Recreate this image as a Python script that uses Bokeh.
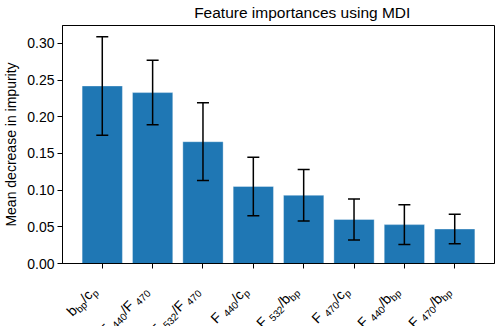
import math

from bokeh.plotting import figure
from bokeh.layouts import column
from bokeh.models import (ColumnDataSource, Range1d, FixedTicker, Whisker,
                          TeeHead, NumeralTickFormatter, Div)
from bokeh.core.properties import value
from bokeh.embed import file_html
from bokeh.resources import INLINE

# Mean decrease in impurity per feature and its spread across trees
importances = [0.242, 0.233, 0.166, 0.105, 0.093, 0.060, 0.053, 0.047]
std = [0.067, 0.044, 0.053, 0.040, 0.035, 0.028, 0.027, 0.020]

# Tick labels as (text, is_subscript) pieces
tick_labels = [
    [("b", False), ("bp", True), ("/c", False), ("p", True)],
    [("F ", False), ("440", True), ("/F ", False), ("470", True)],
    [("F ", False), ("532", True), ("/F ", False), ("470", True)],
    [("F ", False), ("440", True), ("/c", False), ("p", True)],
    [("F ", False), ("532", True), ("/b", False), ("bp", True)],
    [("F ", False), ("470", True), ("/c", False), ("p", True)],
    [("F ", False), ("440", True), ("/b", False), ("bp", True)],
    [("F ", False), ("470", True), ("/b", False), ("bp", True)],
]
y_ticks = [0.0, 0.05, 0.10, 0.15, 0.20, 0.25, 0.30]

title = "Feature importances using MDI"
y_label = "Mean decrease in impurity"

FONT = "Liberation Sans"
BLUE = "#1f77b4"
FS = 14.0      # normal label size, px
SFS = 10.0     # subscript size, px
SUB_DROP = 3.0

W = 500
TITLE_H = 24
MAIN_H = 246
LAB_H = 326 - TITLE_H - MAIN_H
BORDER_L, BORDER_R, BORDER_B = 61, 6, 7


def strip(height, x_range, y_range):
    """A blank figure with no axes, title or border, used for free text."""
    fig = figure(width=W, height=height, output_backend="svg",
                 toolbar_location=None, title_location=None,
                 x_axis_location=None, y_axis_location=None,
                 x_range=x_range, y_range=y_range,
                 min_border_left=0, min_border_right=0,
                 min_border_top=0, min_border_bottom=0)
    fig.grid.visible = False
    fig.outline_line_color = None
    fig.background_fill_color = "white"
    fig.border_fill_color = "white"
    return fig


n = len(importances)
xs = list(range(n))
upper = [m + s for m, s in zip(importances, std)]
lower = [m - s for m, s in zip(importances, std)]

src = ColumnDataSource(dict(x=xs, top=importances, upper=upper, lower=lower))

x_lo = -0.4 - 0.05 * (n - 1 + 0.8)
x_hi = n - 1 + 0.4 + 0.05 * (n - 1 + 0.8)
y_hi = max(upper) * 1.05
frame_w = W - BORDER_L - BORDER_R
px_per_x = frame_w / (x_hi - x_lo)

# ---- title strip -------------------------------------------------------
t_fig = strip(TITLE_H, Range1d(0, W), Range1d(-TITLE_H, 0))
t_fig.text(x=[BORDER_L + frame_w / 2], y=[-12.0], text=[title],
           text_align="center", text_baseline="alphabetic",
           text_font=value(FONT), text_font_size="15.5px", text_color="black")

# ---- main bar chart ----------------------------------------------------
p = figure(width=W, height=MAIN_H, output_backend="svg", toolbar_location=None,
           title_location=None,
           x_range=Range1d(x_lo, x_hi), y_range=Range1d(0, y_hi),
           min_border_left=BORDER_L, min_border_right=BORDER_R,
           min_border_top=1, min_border_bottom=BORDER_B)
p.background_fill_color = "white"
p.border_fill_color = "white"
p.outline_line_color = "black"
p.outline_line_width = 1
p.xgrid.visible = False
p.ygrid.visible = False

p.vbar(x="x", top="top", width=0.8, source=src, fill_color=BLUE,
       line_color="white", line_alpha=0.35, line_width=1)

err = Whisker(source=src, base="x", upper="upper", lower="lower",
              line_color="black", line_width=1.5, level="overlay",
              upper_head=TeeHead(size=12, line_color="black", line_width=1.5),
              lower_head=TeeHead(size=12, line_color="black", line_width=1.5))
p.add_layout(err)

for ax in (p.xaxis, p.yaxis):
    ax.axis_line_color = "black"
    ax.axis_line_width = 1
    ax.major_tick_line_color = "black"
    ax.major_tick_line_width = 1
    ax.major_tick_out = 5
    ax.major_tick_in = 0
    ax.minor_tick_line_color = None
    ax.major_label_text_color = "black"
    ax.major_label_text_font = FONT
    ax.major_label_text_font_size = f"{FS}px"

p.yaxis.ticker = FixedTicker(ticks=y_ticks)
p.yaxis.formatter = NumeralTickFormatter(format="0.00")
p.yaxis.major_label_standoff = 3
p.yaxis.axis_label = y_label
p.yaxis.axis_label_text_font = FONT
p.yaxis.axis_label_text_font_size = f"{FS}px"
p.yaxis.axis_label_text_font_style = "normal"
p.yaxis.axis_label_text_color = "black"

p.xaxis.ticker = FixedTicker(ticks=xs)
p.xaxis.major_label_overrides = {i: "" for i in xs}
p.xaxis.major_label_text_font_size = "0px"
p.xaxis.major_label_standoff = 0

# ---- rotated, subscripted category labels (HTML strip under the axis) ---
BASELINE = 11.85              # baseline depth inside a 14px line box
c45 = math.cos(math.pi / 4)
spans = []
for i, pieces in enumerate(tick_labels):
    tick_px = BORDER_L + (i - x_lo) * px_per_x
    has_desc = any(("p" in t) for t, sub in pieces if sub)
    desc = SUB_DROP + (0.21 * SFS if has_desc else 0.0)
    asc = 0.73 * FS
    end_x = tick_px - c45 * desc                 # baseline end of the label
    end_y = BORDER_B + 9.0 + c45 * asc - 1.0     # below the strip's top edge
    inner = "".join(
        (f'<span style="font-size:{SFS}px;position:relative;'
         f'top:{SUB_DROP}px">{t}</span>') if sub else t
        for t, sub in pieces)
    spans.append(
        f'<span style="position:absolute;right:{W - end_x:.2f}px;'
        f'top:{end_y - BASELINE:.2f}px;transform:rotate(-45deg);'
        f'transform-origin:100% {BASELINE}px;white-space:pre;'
        f'font-family:\'{FONT}\';font-size:{FS}px;line-height:{FS}px;'
        f'color:#000">{inner}</span>')

labels_div = Div(
    text=(f'<div style="position:relative;width:{W}px;height:{LAB_H}px;'
          f'overflow:visible;margin:0;padding:0">' + "".join(spans) + '</div>'),
    width=W, height=LAB_H, margin=0)

layout = column(t_fig, p, labels_div, spacing=0)
open("out.html", "w").write(file_html(layout, INLINE))
